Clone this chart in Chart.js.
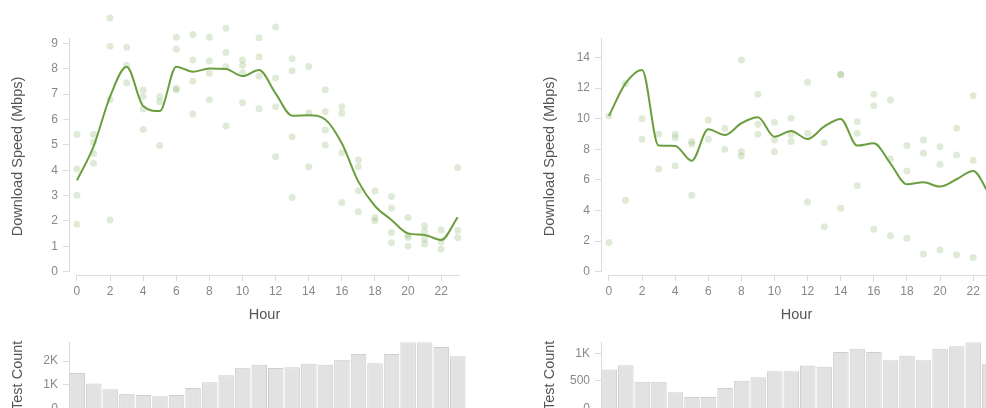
<!DOCTYPE html>
<html>
<head>
<meta charset="utf-8">
<script src="https://cdn.jsdelivr.net/npm/chart.js@4.4.1/dist/chart.umd.min.js"></script>
<style>
  html, body { margin: 0; padding: 0; background: #fff; overflow: hidden; width: 986px; height: 408px; }
  canvas { position: absolute; }
</style>
</head>
<body>
<canvas id="leftSpeed" width="490" height="330" style="left:0;top:0"></canvas>
<canvas id="leftCount" width="490" height="100" style="left:0;top:330px"></canvas>
<canvas id="rightSpeed" width="490" height="330" style="left:532px;top:0"></canvas>
<canvas id="rightCount" width="490" height="100" style="left:532px;top:330px"></canvas>
<script>
var hours = [0,1,2,3,4,5,6,7,8,9,10,11,12,13,14,15,16,17,18,19,20,21,22,23];
var hourTicks = [0,2,4,6,8,10,12,14,16,18,20,22];

// left panel
var leftLine = [3.6, 4.93, 6.9, 8.08, 6.53, 6.33, 8.08, 7.88, 8.01, 7.99, 7.71, 7.95,
                7.03, 6.15, 6.17, 6.0, 5.06, 3.55, 2.59, 2.04, 1.51, 1.45, 1.25, 2.14];
var leftSamples = [
  [5.41, 4.05, 3.01, 1.87], [5.41, 5.1, 4.66, 4.27], [10.0, 8.88, 6.79, 2.04], [8.85, 8.14, 7.45],
  [7.16, 6.9, 6.41, 5.6], [6.9, 6.7, 4.97], [9.24, 8.77, 7.23, 7.16], [9.35, 8.34, 7.51, 6.21],
  [9.24, 8.3, 7.82, 6.78], [9.59, 8.64, 8.08, 5.74], [8.34, 8.14, 7.84, 6.66], [9.22, 8.47, 7.71, 6.42],
  [9.64, 7.63, 6.5, 4.53], [8.39, 7.92, 5.32, 2.92], [8.09, 6.26, 4.14], [7.17, 6.3, 5.58, 4.99],
  [6.5, 6.24, 4.69, 2.73], [4.4, 4.14, 3.19, 2.36], [3.18, 2.14, 2.01], [2.96, 2.5, 1.54, 1.14],
  [2.14, 1.45, 1.35, 1.01], [1.81, 1.58, 1.29, 1.09], [1.64, 1.18, 0.89], [4.11, 1.62, 1.34]
];
var leftCounts = [1500, 1057, 814, 623, 571, 514, 571, 866, 1109, 1405, 1717, 1850,
                  1704, 1745, 1891, 1850, 2053, 2296, 1907, 2296, 2798, 2798, 2595, 2202];
var leftSpeedTicks = [0,1,2,3,4,5,6,7,8,9];
var leftCountTicks = [0, 1000, 2000];

// right panel
var rightLine = [10.18, 12.3, 13.18, 8.24, 8.22, 7.25, 9.3, 8.93, 9.7, 10.09, 8.82, 9.2,
                 8.67, 9.48, 9.98, 8.24, 8.39, 7.08, 5.71, 5.84, 5.56, 6.04, 6.58, 5.0];
var rightSamples = [
  [10.18, 1.9], [12.3, 4.67], [10.0, 8.65], [8.98, 6.71],
  [8.98, 8.76, 6.93], [8.5, 8.35, 4.99], [9.92, 8.65], [9.37, 8.0],
  [13.84, 7.84, 7.56], [11.6, 9.63, 8.98], [9.76, 8.6, 7.84], [10.03, 8.98, 8.5],
  [12.38, 9.05, 4.56], [8.43, 2.94], [12.88, 12.88, 4.14], [9.8, 9.05, 5.62],
  [11.6, 10.85, 2.77], [11.22, 7.37, 2.35], [8.24, 6.58, 2.18], [8.6, 7.74, 1.16],
  [8.17, 7.02, 1.42], [9.37, 7.63, 1.11], [11.5, 7.28, 0.92], []
];
var rightCounts = [704, 784, 483, 483, 291, 205, 205, 372, 500, 566, 674, 674,
                   779, 756, 1023, 1080, 1023, 871, 953, 871, 1080, 1127, 1197, 808];
var rightSpeedTicks = [0,2,4,6,8,10,12,14];
var rightCountTicks = [0, 500, 1000];

Chart.defaults.font.family = '"Helvetica Neue", "Liberation Sans", Arial, sans-serif';
Chart.defaults.font.size = 12;
Chart.defaults.color = '#888';
Chart.defaults.animation = false;

var axisGray = '#dcdcdc';
var titleColor = '#555';
var titleFont = {size: 14.5};

function kFormat(v) { return v >= 1000 ? (v / 1000) + 'K' : String(v); }

// d3 style axes: y line stops at zero, x line starts at hour 0
var axisLines = {
  id: 'axisLines',
  beforeDatasetsDraw: function(chart) {
    var ctx = chart.ctx, a = chart.chartArea;
    var y0 = chart.scales.y.getPixelForValue(0);
    var x0 = chart.scales.x.getPixelForValue(0);
    ctx.save();
    ctx.strokeStyle = axisGray;
    ctx.lineWidth = 1;
    ctx.beginPath();
    ctx.moveTo(Math.round(a.left) + 0.5, a.top);
    ctx.lineTo(Math.round(a.left) + 0.5, y0 + 0.5);
    ctx.moveTo(x0 - 1, Math.round(a.bottom) + 0.5);
    ctx.lineTo(a.right, Math.round(a.bottom) + 0.5);
    ctx.stroke();
    ctx.restore();
  }
};

// chart.js skips points lying outside the chart area; draw exactly those afterwards
var strayDots = {
  id: 'strayDots',
  afterDatasetsDraw: function(chart) {
    var full = {left: -1e4, top: -1e4, right: 1e4, bottom: 1e4};
    var inArea = Chart.helpers && Chart.helpers._isPointInArea;
    chart.getDatasetMeta(1).data.forEach(function(pt) {
      var margin = pt.size(pt.options) / 2;
      var skipped = inArea ? !inArea(pt, chart.chartArea, margin) : pt.y <= chart.chartArea.top - margin;
      if (skipped) pt.draw(chart.ctx, full);
    });
  }
};

function makeSpeedChart(id, line, samples, yMin, yMax, yTicks) {
  var points = [];
  samples.forEach(function(vals, h) {
    vals.forEach(function(v) { points.push({x: hours[h], y: v}); });
  });
  return new Chart(id, {
    type: 'scatter',
    data: {
      datasets: [
        {
          type: 'line',
          data: hours.map(function(h, i) { return {x: h, y: line[i]}; }),
          borderColor: '#6b9e3f',
          borderWidth: 2,
          pointRadius: 0,
          cubicInterpolationMode: 'monotone',
          fill: false,
          order: 0
        },
        {
          data: points,
          pointBackgroundColor: 'rgba(110,165,75,0.22)',
          pointBorderWidth: 0,
          pointRadius: 3.5,
          clip: false,
          order: 1
        }
      ]
    },
    options: {
      responsive: false,
      layout: {padding: {left: 0, right: 30, top: 38, bottom: 0}},
      plugins: {legend: {display: false}, tooltip: {enabled: false}},
      scales: {
        x: {
          type: 'linear', min: -0.48, max: 23.14,
          border: {display: false},
          grid: {drawOnChartArea: false, color: axisGray, tickLength: 6},
          ticks: {padding: 3, maxRotation: 0, autoSkip: false},
          afterBuildTicks: function(s) { s.ticks = hourTicks.map(function(v) { return {value: v}; }); },
          afterFit: function(s) { s.height = 55; },
          title: {display: true, text: 'Hour', color: titleColor, font: titleFont, padding: {top: 0, bottom: 6}}
        },
        y: {
          min: yMin, max: yMax,
          border: {display: false},
          grid: {drawOnChartArea: false, color: axisGray, tickLength: 6},
          ticks: {padding: 5},
          afterBuildTicks: function(s) { s.ticks = yTicks.map(function(v) { return {value: v}; }); },
          afterFit: function(s) { s.width = 69; },
          title: {display: true, text: 'Download Speed (Mbps)', color: titleColor, font: titleFont, padding: {top: 9, bottom: 0}}
        }
      }
    },
    plugins: [axisLines, strayDots]
  });
}

function makeCountChart(id, counts, yMax, yTicks) {
  return new Chart(id, {
    type: 'bar',
    data: {
      labels: hours,
      datasets: [{
        data: counts,
        backgroundColor: '#e2e2e2',
        borderColor: '#cecece',
        borderWidth: 1,
        barPercentage: 0.94,
        categoryPercentage: 1
      }]
    },
    options: {
      responsive: false,
      layout: {padding: {left: 0, right: 24, top: 9, bottom: 21.6}},
      plugins: {legend: {display: false}, tooltip: {enabled: false}},
      scales: {
        x: {display: false},
        y: {
          min: 0, max: yMax,
          border: {display: true, color: axisGray},
          grid: {drawOnChartArea: false, color: axisGray, tickLength: 6},
          ticks: {padding: 5, callback: kFormat},
          afterBuildTicks: function(s) { s.ticks = yTicks.map(function(v) { return {value: v}; }); },
          afterFit: function(s) { s.width = 69; },
          title: {display: true, text: 'Test Count', color: titleColor, font: titleFont, padding: {top: 9, bottom: 0}}
        }
      }
    }
  });
}

makeSpeedChart('leftSpeed', leftLine, leftSamples, -0.13, 9.21, leftSpeedTicks);
makeCountChart('leftCount', leftCounts, 2800, leftCountTicks);
makeSpeedChart('rightSpeed', rightLine, rightSamples, -0.216, 15.27, rightSpeedTicks);
makeCountChart('rightCount', rightCounts, 1200, rightCountTicks);
</script>
</body>
</html>
